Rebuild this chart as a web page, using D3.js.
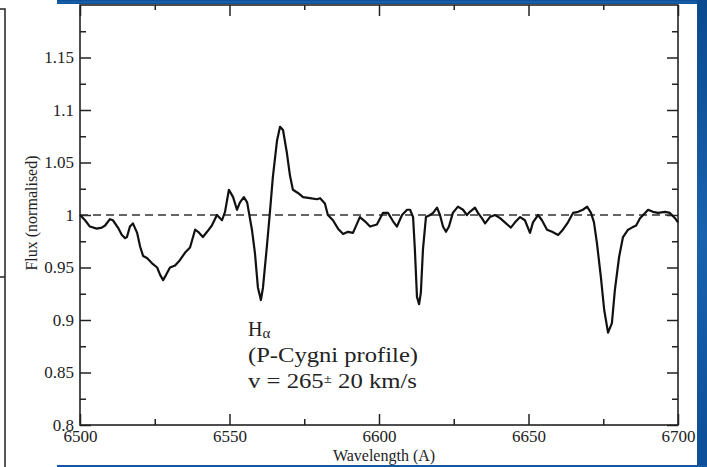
<!DOCTYPE html>
<html>
<head>
<meta charset="utf-8">
<script src="https://cdn.jsdelivr.net/npm/d3@7"></script>
<style>
  body { margin: 0; background: #fff; }
  svg { display: block; font-family: "Liberation Serif", "DejaVu Serif", serif; }
</style>
</head>
<body>
<svg width="707" height="467"></svg>
<script>
// spectrum
const wavelength = [
  6500.0, 6501.7, 6503.3, 6505.6, 6507.3, 6508.4, 6510.0, 6511.0, 6512.7, 6514.0,
  6515.1, 6515.7, 6516.7, 6517.7, 6519.1, 6520.1, 6521.1, 6522.4, 6524.1, 6525.8,
  6526.8, 6527.8, 6528.8, 6530.1, 6531.8, 6533.4, 6535.1, 6536.8, 6538.5, 6539.5,
  6541.1, 6542.5, 6544.1, 6545.8, 6547.5, 6548.5, 6549.8, 6551.2, 6552.5, 6553.5,
  6554.8, 6555.9, 6557.5, 6558.5, 6559.5, 6560.5, 6561.2, 6562.5, 6563.5, 6564.5,
  6565.9, 6566.9, 6567.9, 6569.2, 6570.2, 6571.2, 6572.9, 6574.6, 6576.9, 6579.3,
  6580.3, 6581.9, 6582.9, 6584.6, 6586.3, 6588.0, 6589.6, 6591.3, 6593.6, 6595.3,
  6597.0, 6599.3, 6601.3, 6603.0, 6604.7, 6606.0, 6607.7, 6609.4, 6610.4, 6611.4,
  6612.0, 6612.7, 6613.4, 6614.0, 6614.7, 6615.7, 6617.1, 6618.1, 6619.4, 6620.4,
  6621.4, 6622.4, 6623.4, 6624.7, 6626.4, 6628.1, 6629.4, 6630.4, 6632.1, 6633.1,
  6634.4, 6635.5, 6637.1, 6638.8, 6640.5, 6642.1, 6644.1, 6645.5, 6647.2, 6648.8,
  6650.5, 6651.5, 6653.2, 6654.5, 6656.2, 6657.9, 6659.9, 6661.5, 6663.2, 6664.9,
  6666.6, 6668.2, 6669.6, 6670.9, 6671.9, 6672.9, 6674.2, 6675.3, 6676.6, 6677.9,
  6678.9, 6680.3, 6681.6, 6683.3, 6684.6, 6686.0, 6687.3, 6689.0, 6690.0, 6691.6,
  6693.3, 6695.7, 6697.3, 6699.0, 6700.0
];
const flux = [
  1.000, 0.995, 0.989, 0.987, 0.988, 0.990, 0.996, 0.995, 0.988, 0.981,
  0.978, 0.979, 0.989, 0.992, 0.983, 0.970, 0.961, 0.959, 0.954, 0.950,
  0.943, 0.938, 0.943, 0.950, 0.952, 0.957, 0.964, 0.969, 0.986, 0.984,
  0.979, 0.984, 0.990, 1.000, 0.995, 1.003, 1.024, 1.017, 1.005, 1.012,
  1.017, 1.012, 0.986, 0.964, 0.931, 0.919, 0.931, 0.970, 1.002, 1.036,
  1.071, 1.084, 1.081, 1.059, 1.038, 1.024, 1.021, 1.017, 1.016, 1.015,
  1.016, 1.011, 1.000, 0.995, 0.987, 0.982, 0.984, 0.983, 0.998, 0.994,
  0.989, 0.991, 1.002, 1.002, 0.994, 0.989, 1.000, 1.005, 1.005, 0.998,
  0.967, 0.922, 0.915, 0.926, 0.967, 0.998, 1.000, 1.002, 1.007, 1.000,
  0.989, 0.984, 0.989, 1.002, 1.008, 1.005, 1.000, 1.003, 1.007, 1.002,
  0.997, 0.992, 0.998, 1.000, 0.997, 0.993, 0.988, 0.993, 0.998, 0.995,
  0.983, 0.993, 1.000, 0.995, 0.986, 0.984, 0.981, 0.986, 0.993, 1.002,
  1.003, 1.005, 1.008, 1.002, 0.993, 0.973, 0.941, 0.910, 0.888, 0.897,
  0.929, 0.960, 0.979, 0.986, 0.988, 0.990, 0.997, 1.002, 1.005, 1.003,
  1.002, 1.003, 1.002, 0.997, 0.993
];
const xTicks = [6500, 6550, 6600, 6650, 6700];
const xMinor = [6525, 6575, 6625, 6675];
const yTicks = [0.8, 0.85, 0.9, 0.95, 1, 1.05, 1.1, 1.15];
const yTickLabels = ["0.8", "0.85", "0.9", "0.95", "1", "1.05", "1.1", "1.15"];
const yMinor = [0.825, 0.875, 0.925, 0.975, 1.025, 1.075, 1.125, 1.175];
const continuum = 1;

var plotL = 80, plotR = 678, plotT = 5, plotB = 425;

var svg = d3.select("svg");

var x = d3.scaleLinear().domain([6500, 6700]).range([plotL, plotR]);
var y = d3.scaleLinear().domain([0.8, 1.2]).range([plotB, plotT]);

// background pieces of the slide
var defs = svg.append("defs");
var grad = defs.append("linearGradient").attr("id", "blue")
  .attr("x1", 0).attr("y1", 0).attr("x2", 0).attr("y2", 1);
grad.append("stop").attr("offset", "0%").attr("stop-color", "#0b4a8f");
grad.append("stop").attr("offset", "50%").attr("stop-color", "#1a62ad");
grad.append("stop").attr("offset", "100%").attr("stop-color", "#0d4f98");

// left box edge
svg.append("path")
  .attr("d", "M0,9H5V467M0,277H5")
  .attr("fill", "none").attr("stroke", "#222").attr("stroke-width", 1.5);

// axes
function styleAxis(g) {
  g.attr("font-family", null).attr("font-size", null);
  g.select(".domain").remove();
  g.selectAll("line").attr("stroke", "#222").attr("stroke-width", 1.5);
  g.selectAll("text").attr("font-size", 17).attr("fill", "#222");
}

svg.append("g").attr("transform", "translate(0," + plotB + ")")
  .call(d3.axisBottom(x).tickValues(xTicks).tickSize(-11).tickPadding(5).tickFormat(d3.format("d")))
  .call(styleAxis);
svg.append("g").attr("transform", "translate(0," + plotB + ")")
  .call(d3.axisBottom(x).tickValues(xMinor).tickSize(-6).tickFormat(""))
  .call(styleAxis);
svg.append("g").attr("transform", "translate(0," + plotT + ")")
  .call(d3.axisTop(x).tickValues(xTicks).tickSize(-11).tickFormat(""))
  .call(styleAxis);
svg.append("g").attr("transform", "translate(0," + plotT + ")")
  .call(d3.axisTop(x).tickValues(xMinor).tickSize(-5).tickFormat(""))
  .call(styleAxis);

svg.append("g").attr("transform", "translate(" + plotL + ",0)")
  .call(d3.axisLeft(y).tickValues(yTicks).tickSize(-11).tickPadding(6)
    .tickFormat((d, i) => yTickLabels[i]))
  .call(styleAxis);
svg.append("g").attr("transform", "translate(" + plotL + ",0)")
  .call(d3.axisLeft(y).tickValues(yMinor).tickSize(-6).tickFormat(""))
  .call(styleAxis);
svg.append("g").attr("transform", "translate(" + plotR + ",0)")
  .call(d3.axisRight(y).tickValues(yTicks).tickSize(-11).tickFormat(""))
  .call(styleAxis);
svg.append("g").attr("transform", "translate(" + plotR + ",0)")
  .call(d3.axisRight(y).tickValues(yMinor).tickSize(-6).tickFormat(""))
  .call(styleAxis);

// frame
svg.append("rect")
  .attr("x", plotL).attr("y", plotT)
  .attr("width", plotR - plotL).attr("height", plotB - plotT)
  .attr("fill", "none").attr("stroke", "#222").attr("stroke-width", 1.6);

// continuum
svg.append("line")
  .attr("x1", plotL).attr("x2", plotR)
  .attr("y1", y(continuum)).attr("y2", y(continuum))
  .attr("stroke", "#333").attr("stroke-width", 1.5)
  .attr("stroke-dasharray", "8,5");

// spectrum
var pts = wavelength.map((w, i) => [w, flux[i]]);
var line = d3.line().x(d => x(d[0])).y(d => y(d[1]));
svg.append("path")
  .datum(pts)
  .attr("d", line)
  .attr("fill", "none")
  .attr("stroke", "#111")
  .attr("stroke-width", 2.2)
  .attr("stroke-linejoin", "round");

// axis titles
svg.append("text")
  .attr("transform", "translate(37,213) rotate(-90)")
  .attr("text-anchor", "middle")
  .attr("font-size", 16).attr("fill", "#222")
  .text("Flux (normalised)");
svg.append("text")
  .attr("x", 384).attr("y", 461)
  .attr("text-anchor", "middle")
  .attr("font-size", 16).attr("fill", "#222")
  .text("Wavelength (A)");

// annotation
var t1 = svg.append("text").attr("x", 248).attr("y", 336).attr("font-size", 20).attr("fill", "#222");
t1.append("tspan").text("H");
t1.append("tspan").attr("font-size", 15).attr("dy", 2).text("α");
svg.append("text").attr("x", 248).attr("y", 362)
  .attr("font-size", 20).attr("fill", "#222")
  .attr("textLength", 170).attr("lengthAdjust", "spacingAndGlyphs")
  .text("(P-Cygni profile)");
var t3 = svg.append("text").attr("x", 248).attr("y", 388)
  .attr("font-size", 20).attr("fill", "#222")
  .attr("textLength", 169).attr("lengthAdjust", "spacingAndGlyphs");
t3.append("tspan").text("v = 265");
t3.append("tspan").attr("font-size", 12).attr("dy", -5).text("±");
t3.append("tspan").attr("dy", 5).text(" 20 km/s");

// slide border strips
svg.append("rect").attr("x", 57).attr("y", 0).attr("width", 650).attr("height", 4).attr("fill", "url(#blue)");
svg.append("rect").attr("x", 697).attr("y", 0).attr("width", 10).attr("height", 467).attr("fill", "url(#blue)");
svg.append("rect").attr("x", 57).attr("y", 465).attr("width", 650).attr("height", 2).attr("fill", "#1557a3");
</script>
</body>
</html>
